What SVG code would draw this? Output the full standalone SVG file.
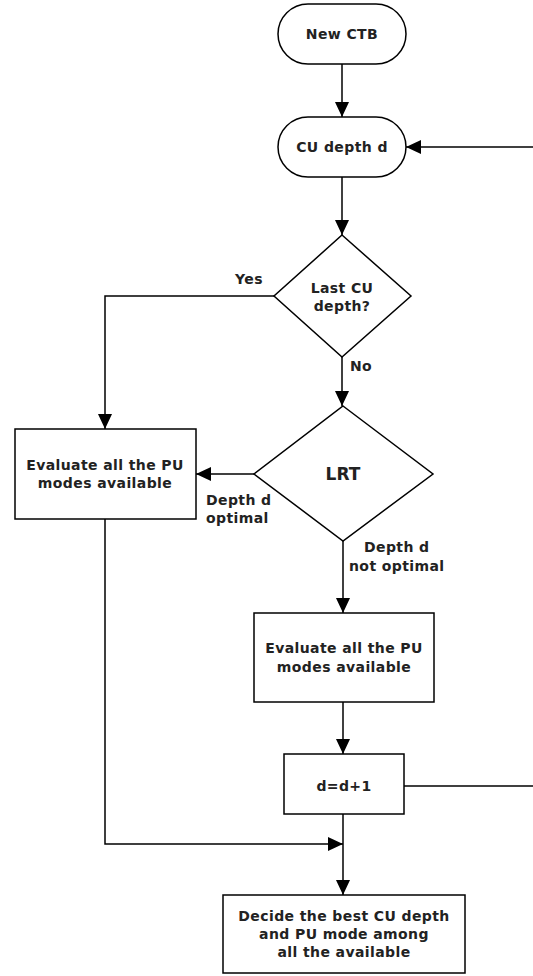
<svg xmlns="http://www.w3.org/2000/svg" width="533" height="976" viewBox="0 0 533 976">
<style>
.s{fill:#fff;stroke:#000;stroke-width:1.5}
.t{font-family:"DejaVu Sans","Verdana",sans-serif;font-weight:bold;font-size:14px;letter-spacing:0.4px;fill:#222;text-anchor:middle}
.l{font-family:"DejaVu Sans","Verdana",sans-serif;font-weight:bold;font-size:14px;letter-spacing:0.4px;fill:#222}
.c{fill:none;stroke:#000;stroke-width:1.5}
</style>
<defs>
<marker id="a" markerUnits="userSpaceOnUse" markerWidth="16" markerHeight="14" refX="15" refY="7" orient="auto">
<path d="M0,0 L15,7 L0,14 z" fill="#000"/>
</marker>
</defs>
<g id="connectors">
<path class="c" d="M342,64 V117" marker-end="url(#a)"/>
<path class="c" d="M533,147 H406" marker-end="url(#a)"/>
<path class="c" d="M342,177 V235" marker-end="url(#a)"/>
<path class="c" d="M274,296 H105 V429" marker-end="url(#a)"/>
<path class="c" d="M342,357 V406" marker-end="url(#a)"/>
<path class="c" d="M254,474 H196" marker-end="url(#a)"/>
<path class="c" d="M343,541 V613" marker-end="url(#a)"/>
<path class="c" d="M343,702 V754" marker-end="url(#a)"/>
<path class="c" d="M404,786 H533"/>
<path class="c" d="M105,519 V844 H343" marker-end="url(#a)"/>
<path class="c" d="M343,814 V895" marker-end="url(#a)"/>
<text class="l" x="235" y="284">Yes</text>
<text class="l" x="350" y="371">No</text>
<text class="l" x="206" y="505">Depth d</text>
<text class="l" x="206" y="523">optimal</text>
<text class="l" x="364" y="552">Depth d</text>
<text class="l" x="349" y="571">not optimal</text>
</g>
<g id="new-ctb">
<rect class="s" x="278" y="4" width="128" height="60" rx="30"/>
<text class="t" x="342" y="39">New CTB</text>
</g>
<g id="cu-depth">
<rect class="s" x="278" y="117" width="128" height="60" rx="30"/>
<text class="t" x="342" y="152">CU depth d</text>
</g>
<g id="last-cu">
<polygon class="s" points="342,235 411,296 342,357 274,296"/>
<text class="t" x="342" y="293">Last CU</text>
<text class="t" x="342" y="311">depth?</text>
</g>
<g id="eval-left">
<rect class="s" x="15" y="429" width="181" height="90"/>
<text class="t" x="105" y="470">Evaluate all the PU</text>
<text class="t" x="105" y="488">modes available</text>
</g>
<g id="lrt">
<polygon class="s" points="343,406 433,474 343,541 254,474"/>
<text class="t" x="343" y="480" style="font-size:17px;letter-spacing:0">LRT</text>
</g>
<g id="eval-right">
<rect class="s" x="254" y="613" width="180" height="89"/>
<text class="t" x="344" y="653">Evaluate all the PU</text>
<text class="t" x="344" y="672">modes available</text>
</g>
<g id="increment">
<rect class="s" x="284" y="754" width="120" height="60"/>
<text class="t" x="344" y="791">d=d+1</text>
</g>
<g id="decide">
<rect class="s" x="223" y="895" width="242" height="78"/>
<text class="t" x="344" y="921">Decide the best CU depth</text>
<text class="t" x="344" y="939">and PU mode among</text>
<text class="t" x="344" y="957">all the available</text>
</g>
</svg>
